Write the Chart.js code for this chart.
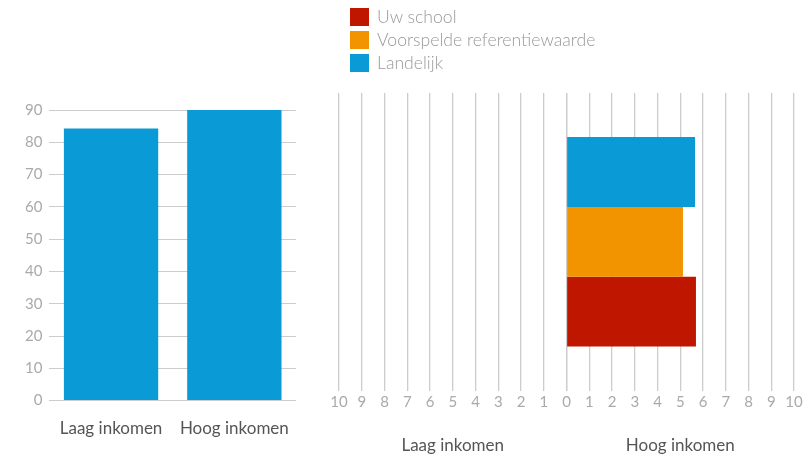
<!DOCTYPE html>
<html>
<head>
<meta charset="utf-8">
<script src="https://cdn.jsdelivr.net/npm/chart.js@4/dist/chart.umd.min.js"></script>
<style>
  html, body { margin: 0; padding: 0; background: #fff; }
  #wrap { position: relative; width: 810px; height: 456px; font-family: Lato, "Open Sans", sans-serif; }
  #left { position: absolute; left: 0; top: 0; width: 310px; height: 456px; }
  #right { position: absolute; left: 320px; top: 0; width: 490px; height: 456px; }
  #legend { position: absolute; left: 350px; top: 5px; }
  .item { display: flex; align-items: center; height: 23px; color: #999; font-size: 17.6px; font-weight: 300; }
  .sw { width: 19px; height: 18px; margin-right: 8px; }
</style>
</head>
<body>
<div id="wrap">
  <canvas id="left" width="310" height="456"></canvas>
  <canvas id="right" width="490" height="456"></canvas>
  <div id="legend"></div>
</div>
<script>
// Left: totals per income group
const groups = ["Laag inkomen", "Hoog inkomen"];
const groupValues = [84.3, 90];
const yTicks = [0, 10, 20, 30, 40, 50, 60, 70, 80, 90];

// Right: scores for the high-income group (top to bottom)
const seriesNames = ["Landelijk", "Voorspelde referentiewaarde", "Uw school"];
const seriesColors = ["#0a9bd6", "#f29400", "#bf1600"];
const hoogValues = [5.65, 5.12, 5.69];
const xTicks = [0, 1, 2, 3, 4, 5, 6, 7, 8, 9, 10];

const tickFont = { family: "Lato, 'Open Sans', sans-serif", size: 15 };
const labelFont = { family: "Lato, 'Open Sans', sans-serif", size: 17 };
const grid = "#cccccc";

// legend, listed bottom bar first like the original
const legend = document.getElementById("legend");
for (let i = seriesNames.length - 1; i >= 0; i--) {
  const row = document.createElement("div");
  row.className = "item";
  const sw = document.createElement("span");
  sw.className = "sw";
  sw.style.background = seriesColors[i];
  const t = document.createElement("span");
  t.textContent = seriesNames[i];
  row.appendChild(sw);
  row.appendChild(t);
  legend.appendChild(row);
}

new Chart(document.getElementById("left"), {
  type: "bar",
  data: {
    labels: groups,
    datasets: [{ data: groupValues, backgroundColor: "#0a9bd6", barPercentage: 0.765, categoryPercentage: 1 }],
  },
  options: {
    responsive: false,
    animation: false,
    layout: { padding: { top: 110, right: 14, bottom: 7, left: 18 } },
    plugins: { legend: { display: false }, tooltip: { enabled: false } },
    scales: {
      x: {
        grid: { display: false },
        border: { display: false },
        ticks: { color: "#555", font: labelFont, padding: 10 },
      },
      y: {
        min: 0,
        max: 90,
        afterBuildTicks: (s) => { s.ticks = yTicks.map((v) => ({ value: v })); },
        grid: { color: grid, drawTicks: false },
        border: { display: false },
        ticks: { color: "#aaa", font: tickFont, padding: 7 },
      },
    },
  },
});

const xAxis = (reverse, title) => ({
  type: "linear",
  position: "bottom",
  stack: "inkomen",
  reverse: reverse,
  min: 0,
  max: 10,
  afterBuildTicks: (s) => { s.ticks = xTicks.map((v) => ({ value: v })); },
  grid: { color: grid, drawTicks: false, lineWidth: 1.3 },
  border: { display: false },
  ticks: { color: "#aaa", font: tickFont, padding: 3, autoSkip: false, maxRotation: 0,
    callback: (v) => (reverse && v === 0 ? "" : v) },
  title: { display: true, text: title, color: "#555", font: labelFont, padding: { top: 21, bottom: 0 } },
});

new Chart(document.getElementById("right"), {
  type: "bar",
  data: {
    labels: [""],
    datasets: seriesNames.map((n, i) => ({
      label: n,
      data: [hoogValues[i]],
      xAxisID: "xR",
      backgroundColor: seriesColors[i],
      barPercentage: 1,
      categoryPercentage: 0.704,
    })),
  },
  options: {
    indexAxis: "y",
    responsive: false,
    animation: false,
    layout: { padding: { top: 93, right: 16, bottom: 0, left: 19 } },
    plugins: { legend: { display: false }, tooltip: { enabled: false } },
    scales: {
      y: { display: false },
      xL: xAxis(true, "Laag inkomen"),
      xR: xAxis(false, "Hoog inkomen"),
    },
  },
});
</script>
</body>
</html>
